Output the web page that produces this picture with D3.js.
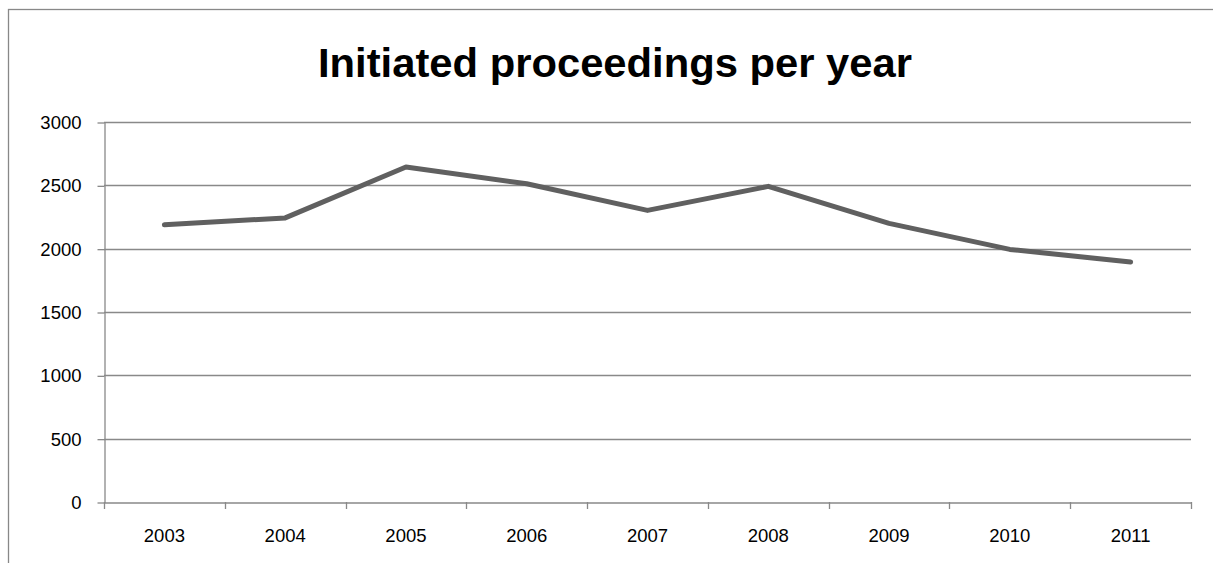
<!DOCTYPE html>
<html><head><meta charset="utf-8">
<script src="https://cdn.jsdelivr.net/npm/d3@7"></script>
<style>html,body{margin:0;padding:0;background:#fff;}svg{display:block;}</style>
</head><body>
<script>
const title = "Initiated proceedings per year";
const years = ["2003","2004","2005","2006","2007","2008","2009","2010","2011"];
const proceedings = [2188, 2243, 2645, 2512, 2302, 2492, 2200, 1994, 1895];
const yTicks = [0, 500, 1000, 1500, 2000, 2500, 3000];

(function () {
const W = 1213, H = 563;
const pL = 104, pR = 1191, pT = 122, pB = 502;
const svg = d3.select("body").append("svg").attr("width", W).attr("height", H);
svg.append("rect").attr("width", W).attr("height", H).attr("fill", "#fff");

// outer chart border
svg.append("rect").attr("x", 8.5).attr("y", 9.5).attr("width", 1220).attr("height", 600)
  .attr("fill", "none").attr("stroke", "#888").attr("stroke-width", 1.3);

const x = d3.scaleBand().domain(years).range([pL, pR]).padding(0);
const y = d3.scaleLinear().domain([0, 3000]).range([pB, pT]);

const font = "'Liberation Sans', Arial, sans-serif";

// gridlines
svg.append("g").selectAll("line").data(yTicks.filter(d => d > 0)).join("line")
  .attr("x1", pL).attr("x2", pR)
  .attr("y1", d => Math.round(y(d)) + 0.5).attr("y2", d => Math.round(y(d)) + 0.5)
  .attr("stroke", "#898989").attr("stroke-width", 1.3);

// y axis
const yAxis = svg.append("g").attr("transform", `translate(${pL + 0.5},0.5)`)
  .call(d3.axisLeft(y).tickValues(yTicks).tickFormat(d3.format("d")).tickSize(7).tickPadding(16).tickSizeOuter(0));
yAxis.attr("font-size", 18.5).attr("font-family", font);
yAxis.select(".domain").attr("stroke", "#898989").attr("stroke-width", 1.3);
yAxis.selectAll(".tick line").attr("stroke", "#898989").attr("stroke-width", 1.3);
yAxis.selectAll("text").attr("fill", "#000");

// x axis with boundary ticks
const xAxis = svg.append("g").attr("transform", `translate(0,${pB + 0.5})`)
  .call(d3.axisBottom(x).tickSize(0).tickPadding(26));
xAxis.attr("font-size", 18.5).attr("font-family", font);
xAxis.select(".domain").attr("stroke", "#898989").attr("stroke-width", 1.3);
xAxis.selectAll("text").attr("fill", "#000");
const bounds = years.map(d => x(d)).concat([x(years[years.length-1]) + x.bandwidth()]);
svg.append("g").selectAll("line").data(bounds).join("line")
  .attr("x1", d => Math.round(d) + 0.5).attr("x2", d => Math.round(d) + 0.5)
  .attr("y1", pB).attr("y2", pB + 7)
  .attr("stroke", "#898989").attr("stroke-width", 1.3);

// line
const line = d3.line().x((d, i) => x(years[i]) + x.bandwidth() / 2).y(d => y(d));
svg.append("path").datum(proceedings).attr("d", line)
  .attr("fill", "none").attr("stroke", "#606060").attr("stroke-width", 5)
  .attr("stroke-linejoin", "round").attr("stroke-linecap", "round");

// title
svg.append("text").attr("x", 615).attr("y", 77).attr("text-anchor", "middle")
  .attr("font-family", font).attr("font-weight", "bold").attr("font-size", 41)
  .attr("textLength", 594).attr("lengthAdjust", "spacingAndGlyphs")
  .attr("fill", "#000").text(title);
})();
</script>
</body></html>
